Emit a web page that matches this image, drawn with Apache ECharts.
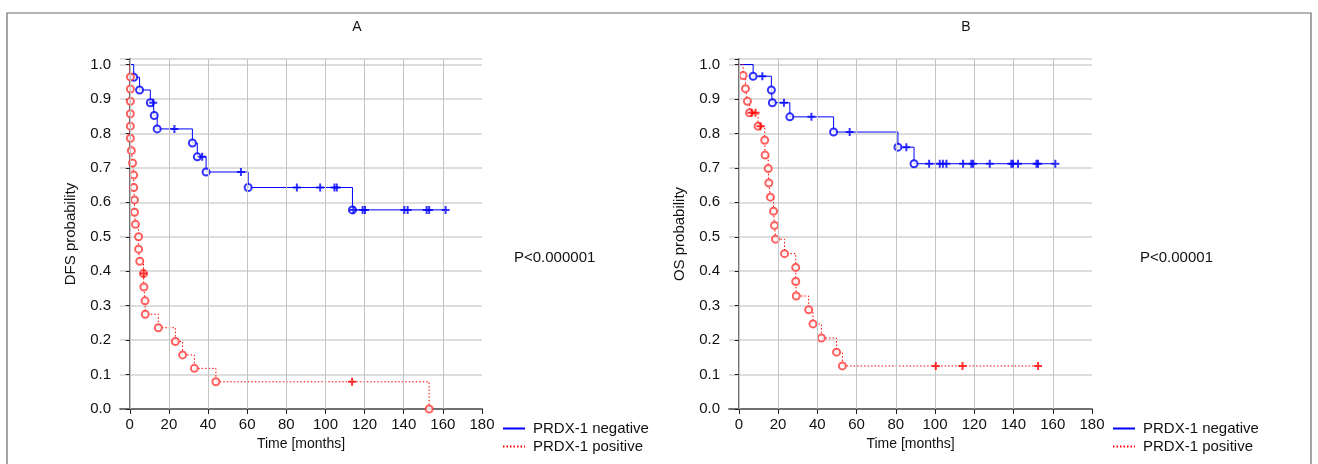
<!DOCTYPE html>
<html>
<head>
<meta charset="utf-8">
<script src="https://cdn.jsdelivr.net/npm/echarts@6/dist/echarts.min.js"></script>
<style>
  html, body { margin: 0; padding: 0; background: #fff; }
  #chart { width: 1318px; height: 464px; }
</style>
</head>
<body>
<div id="chart"></div>
<script>
// tick labels
var xTicks = [0, 20, 40, 60, 80, 100, 120, 140, 160, 180];

// Panel A - DFS
var aNegEventT = [2, 5, 10.5, 12.5, 14, 32, 34.5, 39, 60.5, 113.8];
var aNegEventS = [0.963, 0.926, 0.889, 0.852, 0.813, 0.772, 0.732, 0.688, 0.643, 0.578];
var aNegCensT = [12, 22.8, 37, 56.8, 85.4, 97.3, 104.6, 105.8, 114.3, 119, 120.2, 140.3, 142, 151.7, 153, 161.4];
var aNegCensS = [0.889, 0.813, 0.732, 0.688, 0.643, 0.643, 0.643, 0.643, 0.578, 0.578, 0.578, 0.578, 0.578, 0.578, 0.578, 0.578];

var aPosEventT = [0.3, 0.3, 0.3, 0.3, 0.3, 0.3, 0.8, 1.4, 2, 2, 2.4, 2.4, 2.9, 4.5, 4.5, 5.1, 7, 7.2, 7.8, 7.9, 14.6, 23.3, 27, 33, 44, 153];
var aPosEventS = [0.964, 0.929, 0.893, 0.857, 0.821, 0.786, 0.75, 0.714, 0.679, 0.643, 0.607, 0.571, 0.536, 0.5, 0.464, 0.429, 0.393, 0.354, 0.314, 0.275, 0.236, 0.196, 0.157, 0.118, 0.079, 0];
var aPosCensT = [7.1, 113.6];
var aPosCensS = [0.393, 0.079];

// Panel B - OS
var bNegEventT = [7.3, 16.6, 17.1, 26, 48.3, 81.1, 89.3];
var bNegEventS = [0.966, 0.926, 0.889, 0.848, 0.804, 0.76, 0.712];
var bNegCensT = [12, 23, 37, 56.5, 85.4, 97, 102.4, 104, 105.8, 114.3, 118.5, 119.4, 127.9, 138.9, 139.7, 142.3, 151.7, 152.5, 161.3];
var bNegCensS = [0.966, 0.889, 0.848, 0.804, 0.76, 0.712, 0.712, 0.712, 0.712, 0.712, 0.712, 0.712, 0.712, 0.712, 0.712, 0.712, 0.712, 0.712, 0.712];

var bPosEventT = [2.2, 3.4, 4.4, 5.5, 9.8, 13.2, 13.4, 15, 15.3, 16.1, 17.7, 18.2, 18.7, 23.3, 29, 29, 29.3, 35.6, 37.8, 42.1, 49.8, 52.8];
var bPosEventS = [0.968, 0.93, 0.893, 0.86, 0.821, 0.78, 0.737, 0.698, 0.656, 0.615, 0.574, 0.533, 0.493, 0.451, 0.411, 0.37, 0.328, 0.288, 0.247, 0.206, 0.165, 0.125];
var bPosCensT = [6.5, 8.5, 11, 100.4, 114, 152.5];
var bPosCensS = [0.86, 0.86, 0.821, 0.125, 0.125, 0.125];

var FONT = 'Liberation Sans, Arial, sans-serif';
var BLUE = '#0000ff';
var RED = '#ff0000';
var PLUS = 'path://M3,0H5V3H8V5H5V8H3V5H0V3H3Z';

function pairs(t, s) {
  return t.map(function (v, i) { return [v, s[i]]; });
}
// survival curve: start at 1, then every event and censor in time order
function curve(et, es, ct, cs) {
  var pts = pairs(et, es).concat(pairs(ct, cs));
  pts.sort(function (a, b) { return a[0] - b[0]; });
  return [[0, 1]].concat(pts);
}

function xAxes(grid) {
  return [{
    gridIndex: grid, type: 'value', min: -5, max: 180,
    name: 'Time [months]', nameLocation: 'middle', nameGap: 28,
    nameTextStyle: { fontFamily: FONT, fontSize: 14, color: '#111' },
    axisLine: { lineStyle: { color: '#6a6a6a', width: 1.5 } },
    axisTick: { show: false },
    axisLabel: { customValues: xTicks, margin: 8, fontFamily: FONT, fontSize: 15, color: '#111' },
    splitLine: { show: false }
  }, {
    gridIndex: grid, type: 'value', min: -5, max: 180, position: 'top',
    axisLine: { lineStyle: { color: '#6a6a6a', width: 1.5 } },
    axisTick: { inside: true, length: 5, customValues: xTicks, lineStyle: { color: '#222' } },
    axisLabel: { show: false },
    splitLine: { show: false }
  }];
}
function yAxes(grid, name) {
  return [{
    gridIndex: grid, type: 'value', min: 0, max: 1.016, interval: 0.1,
    name: name, nameLocation: 'middle', nameGap: 42,
    nameTextStyle: { fontFamily: FONT, fontSize: 15, color: '#111' },
    axisLine: { lineStyle: { color: '#6a6a6a', width: 1.5 } },
    axisTick: { show: false },
    axisLabel: { margin: 9, showMaxLabel: false, fontFamily: FONT, fontSize: 15, color: '#111',
      formatter: function (v) { return v.toFixed(1); } },
    splitLine: { show: true, lineStyle: { color: '#d2d2d2', width: 1.5 } }
  }, {
    gridIndex: grid, type: 'value', min: 0, max: 1.016, interval: 0.1, position: 'right',
    axisLine: { lineStyle: { color: '#6a6a6a', width: 1.5 } },
    axisTick: { inside: true, length: 4, lineStyle: { color: '#222' } },
    axisLabel: { show: false },
    splitLine: { show: false }
  }];
}

function gridLines() {
  return {
    silent: true, symbol: 'none', label: { show: false },
    lineStyle: { color: '#c4c4c4', type: 'solid', width: 1 },
    data: xTicks.slice(0, -1).map(function (v) { return { xAxis: v }; })
  };
}

function panelSeries(xi, yi, negE, negC, posE, posC, negLine, posLine) {
  return [{
    name: 'PRDX-1 negative', type: 'line', step: 'end', xAxisIndex: xi, yAxisIndex: yi,
    data: negLine, symbol: 'none', z: 3,
    lineStyle: { color: BLUE, width: 1 }, itemStyle: { color: BLUE },
    markLine: gridLines()
  }, {
    name: 'PRDX-1 positive', type: 'line', step: 'end', xAxisIndex: xi, yAxisIndex: yi,
    data: posLine, symbol: 'none', z: 3,
    lineStyle: { color: RED, width: 1, type: [1.5, 2] }, itemStyle: { color: RED }
  }, {
    type: 'scatter', xAxisIndex: xi, yAxisIndex: yi, data: negE, z: 4,
    symbol: 'emptyCircle', symbolSize: 7, itemStyle: { color: BLUE, borderWidth: 0.8 }
  }, {
    type: 'scatter', xAxisIndex: xi, yAxisIndex: yi, data: negC, z: 5,
    symbol: PLUS, symbolSize: 8, itemStyle: { color: BLUE }
  }, {
    type: 'scatter', xAxisIndex: xi, yAxisIndex: yi, data: posE, z: 4,
    symbol: 'emptyCircle', symbolSize: 7, itemStyle: { color: '#ff3a3a', borderWidth: 0.8 }
  }, {
    type: 'scatter', xAxisIndex: xi, yAxisIndex: yi, data: posC, z: 5,
    symbol: PLUS, symbolSize: 8, itemStyle: { color: RED }
  }];
}

function legend(left) {
  return {
    left: left, top: 421, padding: 0, orient: 'vertical', itemWidth: 22, itemHeight: 12, itemGap: 3,
    selectedMode: false,
    itemStyle: { opacity: 0 },
    data: ['PRDX-1 negative', 'PRDX-1 positive'],
    textStyle: { fontFamily: FONT, fontSize: 15, color: '#111', padding: [0, 0, 0, 3] }
  };
}

var chart = echarts.init(document.getElementById('chart'));
chart.setOption({
  animation: false,
  backgroundColor: '#fff',
  grid: [
    { left: 120, top: 59, width: 362, height: 350 },
    { left: 729, top: 59, width: 363, height: 350 }
  ],
  xAxis: xAxes(0).concat(xAxes(1)),
  yAxis: yAxes(0, 'DFS probability').concat(yAxes(1, 'OS probability')),
  legend: [legend(502), legend(1112)],
  series: panelSeries(0, 0,
      pairs(aNegEventT, aNegEventS), pairs(aNegCensT, aNegCensS),
      pairs(aPosEventT, aPosEventS), pairs(aPosCensT, aPosCensS),
      curve(aNegEventT, aNegEventS, aNegCensT, aNegCensS),
      curve(aPosEventT, aPosEventS, aPosCensT, aPosCensS))
    .concat(panelSeries(2, 2,
      pairs(bNegEventT, bNegEventS), pairs(bNegCensT, bNegCensS),
      pairs(bPosEventT, bPosEventS), pairs(bPosCensT, bPosCensS),
      curve(bNegEventT, bNegEventS, bNegCensT, bNegCensS),
      curve(bPosEventT, bPosEventS, bPosCensT, bPosCensS))),
  graphic: [
    { type: 'rect', shape: { x: 7, y: 13, width: 1304, height: 470 },
      style: { fill: 'none', stroke: '#6a6a6a', lineWidth: 1.2 }, silent: true },
    { type: 'text', x: 357, y: 27, style: { text: 'A', align: 'center', verticalAlign: 'middle',
      font: '14px ' + FONT, fill: '#111' } },
    { type: 'text', x: 966, y: 27, style: { text: 'B', align: 'center', verticalAlign: 'middle',
      font: '14px ' + FONT, fill: '#111' } },
    { type: 'text', x: 514, y: 258, style: { text: 'P<0.000001', verticalAlign: 'middle',
      font: '15px ' + FONT, fill: '#111' } },
    { type: 'text', x: 1140, y: 258, style: { text: 'P<0.00001', verticalAlign: 'middle',
      font: '15px ' + FONT, fill: '#111' } }
  ]
});
</script>
</body>
</html>
